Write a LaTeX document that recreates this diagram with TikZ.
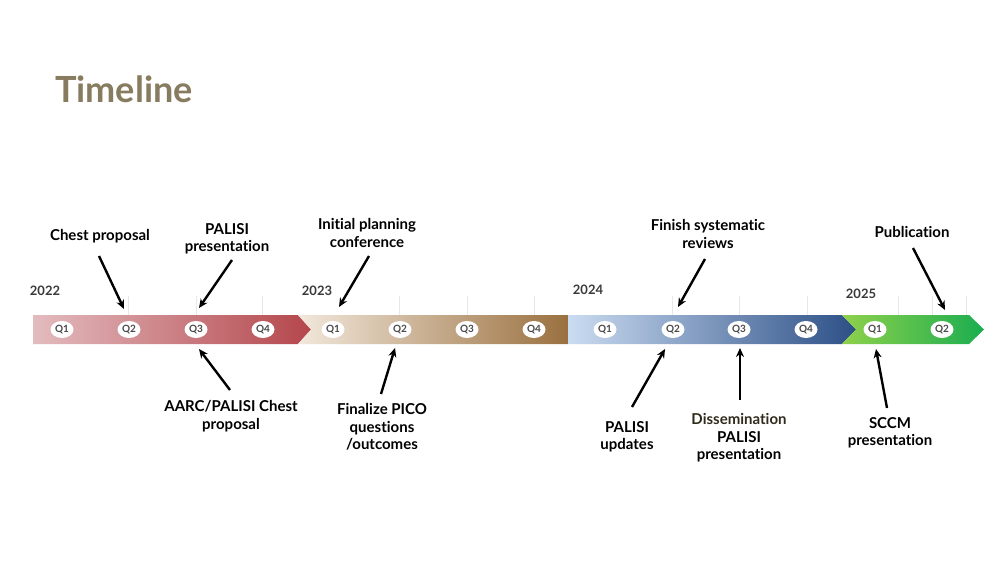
\documentclass[tikz,border=0pt]{standalone}
\usepackage{fontspec}
\setmainfont{Lato}[Ligatures={NoCommon,NoRare}]
\usetikzlibrary{arrows.meta}
\usetikzlibrary{shapes.geometric}

\definecolor{titlebrown}{HTML}{877C5F}
\definecolor{yeargray}{HTML}{3A3A3A}
\definecolor{qgray}{HTML}{4A4A4A}
\definecolor{tickgray}{HTML}{E8E8E8}
\definecolor{dissem}{HTML}{2F2C1C}
\definecolor{redA}{HTML}{E3BCBF}
\definecolor{redB}{HTML}{B4464C}
\definecolor{tanA}{HTML}{F2E8DC}
\definecolor{tanB}{HTML}{9A703F}
\definecolor{blueA}{HTML}{CBDCF1}
\definecolor{blueB}{HTML}{2C4F86}
\definecolor{greenA}{HTML}{8FD14B}
\definecolor{greenB}{HTML}{1BAD4F}

\begin{document}
\begin{tikzpicture}[x=1pt,y=-1pt,
    pointer/.style={line width=2.4pt,-{Stealth[length=9pt,width=8pt]}},
    eventtext/.style={font=\bfseries\fontsize{15}{17.5}\selectfont,align=center,inner sep=0pt},
    yeartext/.style={font=\bfseries\fontsize{13}{15}\selectfont,text=yeargray,inner sep=0pt},
    qbadge/.style={ellipse,fill=white,inner sep=0pt,minimum width=23pt,minimum height=17pt,
        font=\bfseries\fontsize{10}{11}\selectfont,text=qgray}]
    \useasboundingbox[fill=white] (0,0) rectangle (1000,563);

    % Bar heights
    \def\ytop{315}  % top of the bar
    \def\ybot{344}  % bottom of the bar
    \def\ymid{329.5}

    % Title
    \node[anchor=base west,inner sep=0pt,text=titlebrown,font=\bfseries\fontsize{36}{40}\selectfont] (title) at (55,102) {Timeline};

    % Quarter ticks above the bar
    \draw[tickgray,line width=0.8pt] (128,296) -- (128,\ytop) (196,296) -- (196,\ytop) (262,296) -- (262,\ytop)
        (399,296) -- (399,\ytop) (467,296) -- (467,\ytop) (534,296) -- (534,\ytop)
        (672,296) -- (672,\ytop) (739,296) -- (739,\ytop) (807,296) -- (807,\ytop)
        (898,296) -- (898,\ytop) (932,296) -- (932,\ytop) (966,296) -- (966,\ytop);

    % Draw the year segments
    \shade[left color=redA,right color=redB] (33,\ytop) -- (298,\ytop) -- (311,\ymid) -- (298,\ybot) -- (33,\ybot) -- cycle;
    \shade[left color=tanA,right color=tanB] (298,\ytop) -- (568,\ytop) -- (568,\ybot) -- (298,\ybot) -- (311,\ymid) -- cycle;
    \shade[left color=blueA,right color=blueB] (568,\ytop) -- (842,\ytop) -- (856,\ymid) -- (842,\ybot) -- (568,\ybot) -- cycle;
    \shade[left color=greenA,right color=greenB] (842,\ytop) -- (969,\ytop) -- (984,\ymid) -- (969,\ybot) -- (842,\ybot) -- (856,\ymid) -- cycle;

    % Years
    \node[yeartext] (y22) at (45,291) {2022};
    \node[yeartext] (y23) at (317,291) {2023};
    \node[yeartext] (y24) at (588,290) {2024};
    \node[yeartext] (y25) at (861,294) {2025};

    % Quarters
    \node[qbadge] (q22a) at (62,\ymid) {Q1};
    \node[qbadge] (q22b) at (129,\ymid) {Q2};
    \node[qbadge] (q22c) at (196,\ymid) {Q3};
    \node[qbadge] (q22d) at (263,\ymid) {Q4};
    \node[qbadge] (q23a) at (333,\ymid) {Q1};
    \node[qbadge] (q23b) at (400,\ymid) {Q2};
    \node[qbadge] (q23c) at (467,\ymid) {Q3};
    \node[qbadge] (q23d) at (534,\ymid) {Q4};
    \node[qbadge] (q24a) at (605,\ymid) {Q1};
    \node[qbadge] (q24b) at (673,\ymid) {Q2};
    \node[qbadge] (q24c) at (739,\ymid) {Q3};
    \node[qbadge] (q24d) at (806,\ymid) {Q4};
    \node[qbadge] (q25a) at (875,\ymid) {Q1};
    \node[qbadge] (q25b) at (942,\ymid) {Q2};

    % Events above the bar
    \node[eventtext] (chest) at (100,236) {Chest proposal};
    \node[eventtext] (palpres) at (227,239) {PALISI\\presentation};
    \node[eventtext] (initial) at (367,233) {Initial planning\\conference};
    \node[eventtext] (finish) at (708,234) {Finish systematic\\reviews};
    \node[eventtext] (publ) at (912,232) {Publication};

    % Events below the bar
    \node[eventtext] (aarc) at (231,416) {AARC/PALISI Chest\\proposal};
    \node[eventtext] (pico) at (382,427) {Finalize PICO\\questions\\/outcomes};
    \node[eventtext] (updates) at (627,437) {PALISI\\updates};
    \node[eventtext] (dissem) at (739,438) {\textcolor{dissem}{Dissemination}\\PALISI\\presentation};
    \node[eventtext] (sccm) at (890,433) {SCCM\\presentation};

    % Arrow ends
    \coordinate (tChest) at (99,256);    \coordinate (hChest) at (124,309);
    \coordinate (tPalpres) at (232,260);  \coordinate (hPalpres) at (199,308);
    \coordinate (tInitial) at (369,256);  \coordinate (hInitial) at (339,307);
    \coordinate (tFinish) at (705,259);   \coordinate (hFinish) at (678,307);
    \coordinate (tPubl) at (913,248);     \coordinate (hPubl) at (945,310);
    \coordinate (tAarc) at (230,390);     \coordinate (hAarc) at (199,349);
    \coordinate (tPico) at (381,394);     \coordinate (hPico) at (395,348);
    \coordinate (tUpdates) at (632,407);  \coordinate (hUpdates) at (665,349);
    \coordinate (tDissem) at (740,400);   \coordinate (hDissem) at (740,348);
    \coordinate (tSccm) at (887,408);     \coordinate (hSccm) at (876,349);

    % Draw the pointers
    \draw[pointer] (tChest) -- (hChest);
    \draw[pointer] (tPalpres) -- (hPalpres);
    \draw[pointer] (tInitial) -- (hInitial);
    \draw[pointer] (tFinish) -- (hFinish);
    \draw[pointer] (tPubl) -- (hPubl);
    \draw[pointer] (tAarc) -- (hAarc);
    \draw[pointer] (tPico) -- (hPico);
    \draw[pointer] (tUpdates) -- (hUpdates);
    \draw[pointer] (tDissem) -- (hDissem);
    \draw[pointer] (tSccm) -- (hSccm);
\end{tikzpicture}
\end{document}
